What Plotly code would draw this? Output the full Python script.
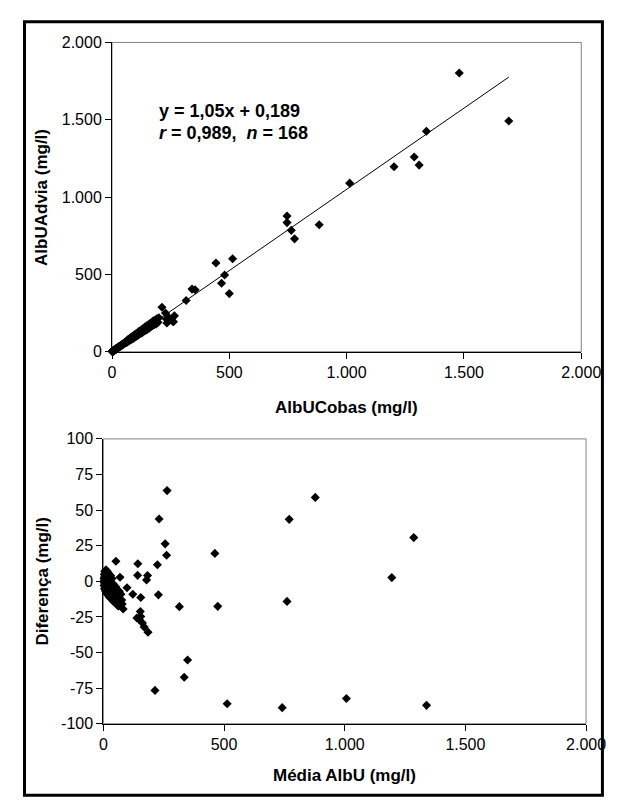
import plotly.graph_objects as go

# ---------------- data: method comparison (top) ----------------
cobas_x = [1, 2, 2, 3, 3, 4, 4, 5, 5, 6, 6, 7, 7, 8, 8, 9, 9, 10, 10, 11, 12, 12, 13, 14, 14,
           15, 16, 17, 18, 18, 19, 20, 20, 21, 22, 23, 24, 25, 26, 27, 28, 30, 31, 32, 33,
           35, 36, 38, 40, 40, 42, 44, 45, 47, 48, 50, 52, 54, 55, 57, 60, 62, 64, 66, 68,
           70, 72, 75, 78, 80, 82, 85, 88, 90, 92, 95, 98, 100, 104, 108, 110, 114, 118, 120,
           124, 128, 130, 134, 138, 140, 145, 148, 150, 155, 158, 162, 165, 170, 172, 176,
           180, 184, 188, 192, 196, 200,
           213, 228, 232, 234, 242, 257, 262, 266, 316, 341, 354, 443, 467, 480, 500, 514,
           746, 746, 764, 778, 883, 1013, 1202, 1288, 1309, 1340, 1480, 1691]
advia_y = [1, 3, 2, 2, 4, 5, 3, 6, 4, 7, 5, 8, 6, 9, 7, 10, 8, 12, 9, 11, 13, 11, 14, 15, 13,
           17, 16, 18, 20, 17, 21, 22, 19, 23, 24, 25, 24, 28, 27, 30, 29, 33, 31, 35, 34,
           38, 37, 41, 43, 39, 45, 47, 44, 51, 50, 54, 52, 58, 57, 62, 58, 70, 61, 75, 66,
           80, 70, 85, 76, 92, 80, 96, 85, 102, 88, 108, 96, 115, 100, 122, 106, 130, 115, 135,
           120, 145, 125, 150, 135, 160, 140, 168, 145, 175, 152, 182, 160, 190, 168, 200,
           175, 205, 180, 215, 190, 220,
           288, 250, 211, 186, 221, 198, 194, 232, 331, 405, 401, 574, 443, 496, 376, 601,
           878, 835, 785, 730, 821, 1090, 1196, 1259, 1207, 1426, 1802, 1492]

fit_slope = 1.05
fit_intercept = 0.189
fit_x = [0, 1691]
eq_line1 = "y = 1,05x + 0,189"
eq_r = "0,989"
eq_n = "168"

# ---------------- data: Bland-Altman (bottom) ----------------
mean_x = [2, 3, 3, 4, 4, 5, 5, 6, 6, 7, 7, 8, 8, 9, 9, 10, 10, 11, 11, 12, 12, 13, 13, 14, 14,
          15, 15, 16, 16, 17, 17, 18, 18, 19, 19, 20, 20, 21, 21, 22, 22, 23, 23, 24, 24,
          25, 25, 26, 27, 28, 28, 29, 30, 30, 31, 32, 33, 34, 35, 36, 37, 38, 40, 41, 42,
          44, 45, 47, 48, 50, 52, 55, 58, 60, 63, 66, 70, 73, 78,
          52, 143, 142, 183, 179, 155, 69, 98, 122, 76, 82, 62, 139, 153, 155, 162, 169, 185, 149,
          264, 231, 256, 262, 224, 228, 315, 349, 335, 214, 462, 474, 513, 741, 761, 770,
          878, 1007, 1195, 1286, 1339]
diff_y = [0, 2, -3, 5, -1, 3, -5, 1, 7, -2, 4, -6, 0, 6, -3, 2, -7, 8, -1, 3, -4, -8, 5, 0, -2,
          4, -6, 7, -9, 1, -3, -5, 3, 6, -1, -7, 2, -10, 4, 0, -4, -6, 5, 2, -8,
          -2, -11, 3, -5, -9, 1, -3, -7, 4, -12, -1, -6, -9, -3, 2, -8, -11, -5, -14, -2,
          -8, -12, -6, -15, -10, -4, -13, -8, -17, -11, -7, -14, -9, -16,
          14.1, 12.3, 4.2, 4.0, 1.0, -11.4, 2.9, -4.5, -9.1, -13.2, -19.4, -17.3, -25.8, -21.2,
          -24.7, -29.3, -32.0, -35.7, -27.0,
          63.7, 43.7, 26.3, 18.3, 11.6, -9.5, -17.8, -55.2, -67.4, -76.6, 19.6, -17.6, -86.0,
          -88.7, -14.1, 43.5, 58.9, -82.3, 2.6, 30.7, -87.1]

x_tick_vals = [0, 500, 1000, 1500, 2000]
x_tick_text = ["0", "500", "1.000", "1.500", "2.000"]
top_y_tick_vals = [0, 500, 1000, 1500, 2000]
top_y_tick_text = ["0", "500", "1.000", "1.500", "2.000"]
bot_y_tick_vals = [100, 75, 50, 25, 0, -25, -50, -75, -100]
bot_y_tick_text = ["100", "75", "50", "25", "0", "-25", "-50", "-75", "-100"]

title_top_x = "AlbUCobas (mg/l)"
title_top_y = "AlbUAdvia (mg/l)"
title_bot_x = "Média AlbU (mg/l)"
title_bot_y = "Diferença (mg/l)"

# ---------------- figure ----------------
W, H = 625, 805
FONT = "Liberation Sans, Arial, sans-serif"


def px(x):
    return x / W


def py(y):
    return 1 - y / H


marker = dict(symbol="diamond", size=7, color="black", line=dict(width=0))

fig = go.Figure()
fig.add_trace(go.Scatter(x=cobas_x, y=advia_y, mode="markers", marker=marker,
                         cliponaxis=False, xaxis="x", yaxis="y", showlegend=False))
fig.add_trace(go.Scatter(x=fit_x, y=[fit_slope * v + fit_intercept for v in fit_x],
                         mode="lines", line=dict(color="black", width=1),
                         xaxis="x", yaxis="y", showlegend=False))
fig.add_trace(go.Scatter(x=mean_x, y=diff_y, mode="markers", marker=marker,
                         cliponaxis=False, xaxis="x2", yaxis="y2", showlegend=False))

axis_common = dict(showgrid=False, zeroline=False, showline=True, linecolor="black",
                   linewidth=1, ticks="outside", ticklen=6, tickcolor="black",
                   tickfont=dict(family=FONT, size=16, color="black"), fixedrange=True)

fig.update_layout(
    width=W, height=H, margin=dict(l=0, r=0, t=0, b=0),
    paper_bgcolor="white", plot_bgcolor="white",
    xaxis=dict(domain=[px(104), px(592)], range=[0, 2000], tickvals=x_tick_vals,
               ticktext=x_tick_text, anchor="y", **axis_common),
    yaxis=dict(domain=[py(343), py(27)], range=[0, 2000], tickvals=top_y_tick_vals,
               ticktext=top_y_tick_text, anchor="x", **axis_common),
    xaxis2=dict(domain=[px(95), px(597)], range=[0, 2000], tickvals=x_tick_vals,
                ticktext=x_tick_text, anchor="y2", **axis_common),
    yaxis2=dict(domain=[py(723), py(432)], range=[-100, 100], tickvals=bot_y_tick_vals,
                ticktext=bot_y_tick_text, anchor="x2", **axis_common),
)

# plot area borders and outer frame
fig.add_shape(type="rect", xref="x domain", yref="y domain", x0=0, x1=1, y0=0, y1=1,
              line=dict(color="#808080", width=1), layer="below")
fig.add_shape(type="rect", xref="x2 domain", yref="y2 domain", x0=0, x1=1, y0=0, y1=1,
              line=dict(color="#808080", width=1), layer="below")
fig.add_shape(type="rect", xref="paper", yref="paper", x0=px(13), x1=px(614),
              y0=py(796), y1=py(6), line=dict(color="black", width=3))

title_font = dict(family=FONT, size=17, color="black")
ann = [
    dict(x=px(30), y=py(185), text="<b>%s</b>" % title_top_y, textangle=-90, font=title_font),
    dict(x=px(348), y=py(400), text="<b>%s</b>" % title_top_x, font=title_font),
    dict(x=px(32), y=py(578), text="<b>%s</b>" % title_bot_y, textangle=-90, font=title_font),
    dict(x=px(346), y=py(776), text="<b>%s</b>" % title_bot_x, font=title_font),
    dict(x=px(151), y=py(97), text="<b>%s</b>" % eq_line1, xanchor="left",
         font=dict(family=FONT, size=18, color="black")),
    dict(x=px(151), y=py(120),
         text="<b><i>r</i> = %s,  <i>n</i> = %s</b>" % (eq_r, eq_n), xanchor="left",
         font=dict(family=FONT, size=18, color="black")),
]
for a in ann:
    a.setdefault("xanchor", "center")
    a.update(xref="paper", yref="paper", yanchor="middle", showarrow=False)
    fig.add_annotation(**a)

fig.write_html("out.html")
